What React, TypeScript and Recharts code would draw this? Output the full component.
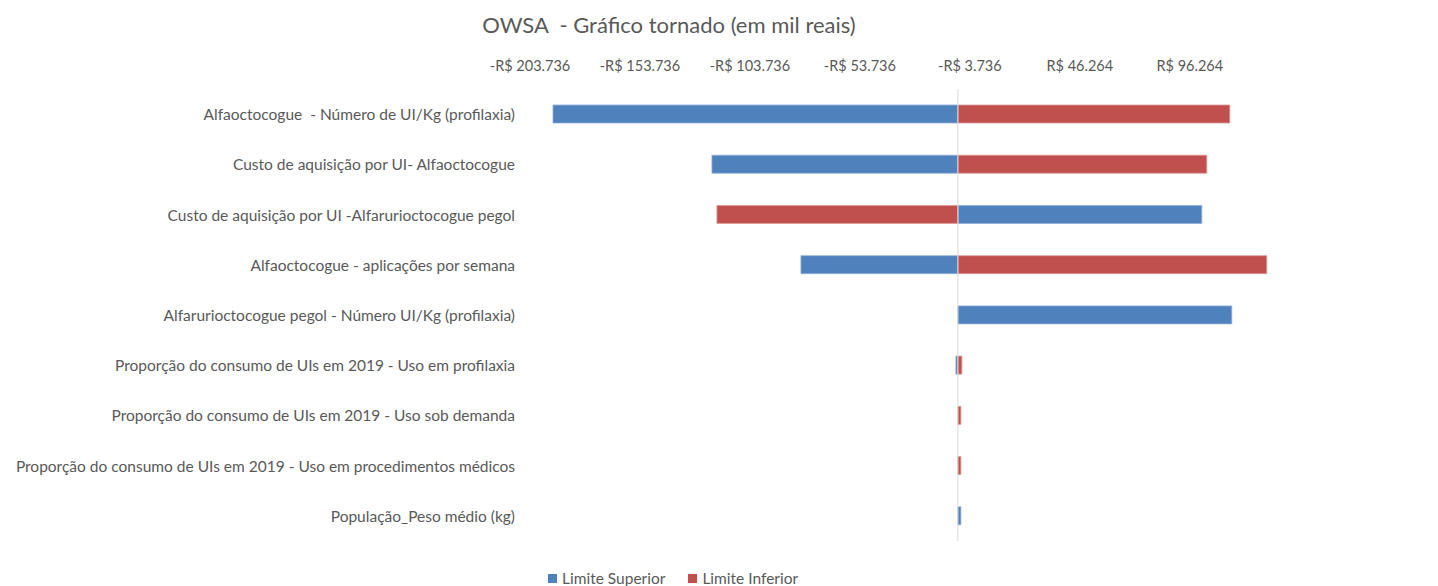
import { BarChart, Bar, XAxis, YAxis, ReferenceLine } from 'recharts'

// OWSA tornado – values in R$ (thousand units shown with "." separator)
const categories = [
  'Alfaoctocogue  - Número de UI/Kg (profilaxia)',
  'Custo de aquisição por UI- Alfaoctocogue',
  'Custo de aquisição por UI -Alfarurioctocogue pegol',
  'Alfaoctocogue - aplicações por semana',
  'Alfarurioctocogue pegol - Número UI/Kg (profilaxia)',
  'Proporção do consumo de UIs em 2019 - Uso em profilaxia',
  'Proporção do consumo de UIs em 2019 - Uso sob demanda',
  'Proporção do consumo de UIs em 2019 - Uso em procedimentos médicos',
  'População_Peso médio (kg)',
]

const baseValue = -9190

// bar end for each scenario
const limiteSuperior = [-193280, -121010, 101720, -80550, 115350, -10100, -9190, -9190, -7830]
const limiteInferior = [114440, 103990, -118740, 131260, -9190, -7370, -7830, -7830, -9190]

const xTicks = [-203736, -153736, -103736, -53736, -3736, 46264, 96264]

const BLUE = '#4F81BD'
const RED = '#C0504D'
const TEXT = '#595959'
const FONT = 'Lato, "Open Sans", sans-serif'

const span = (v: number): [number, number] => [Math.min(baseValue, v), Math.max(baseValue, v)]

const data = categories.map((name, i) => ({
  name,
  sup: span(limiteSuperior[i]),
  inf: span(limiteInferior[i]),
}))

const fmtMoney = (v: number) => {
  const s = (Math.abs(v) / 1000).toFixed(3)
  return v < 0 ? `-R$ ${s}` : `R$ ${s}`
}

// plain <text> so double spaces in the labels survive
const CategoryTick = (props: any) => {
  const { x, y, payload } = props
  return (
    <text
      x={x}
      y={y}
      textAnchor="end"
      dominantBaseline="central"
      fill={TEXT}
      fontSize={15.5}
      fontFamily={FONT}
      style={{ whiteSpace: 'pre' }}
    >
      {payload.value}
    </text>
  )
}

export default function App() {
  return (
    <div style={{ position: 'relative', width: 1430, height: 578, fontFamily: FONT }}>
      <div
        style={{
          position: 'absolute',
          top: 4,
          left: 461,
          width: 400,
          textAlign: 'center',
          fontSize: 22,
          lineHeight: '26px',
          color: TEXT,
          whiteSpace: 'pre',
        }}
      >
        {'OWSA  - Gráfico tornado (em mil reais)'}
      </div>

      <BarChart
        width={1430}
        height={578}
        data={data}
        layout="vertical"
        margin={{ top: 51, right: 152, bottom: 45, left: 0 }}
        barSize={18}
        barGap={-18}
      >
        <XAxis
          type="number"
          orientation="top"
          domain={[-203736, 140000]}
          ticks={xTicks}
          tickFormatter={fmtMoney}
          height={30}
          axisLine={false}
          tickLine={false}
          tickSize={6}
          tickMargin={12}
          tick={{ fill: TEXT, fontSize: 14.5, fontFamily: FONT }}
        />
        <YAxis
          type="category"
          dataKey="name"
          width={522}
          axisLine={false}
          tickLine={false}
          tickSize={6}
          tickMargin={9}
          interval={0}
          tick={<CategoryTick />}
        />
        <ReferenceLine x={baseValue} stroke="#D9D9D9" strokeWidth={1} />
        <Bar dataKey="sup" name="Limite Superior" fill={BLUE} stroke="#8FAEDB" strokeWidth={0.8} isAnimationActive={false} />
        <Bar dataKey="inf" name="Limite Inferior" fill={RED} stroke="#DD9A98" strokeWidth={0.8} isAnimationActive={false} />
      </BarChart>

      {/* legend */}
      <div
        style={{
          position: 'absolute',
          top: 561,
          left: 540,
          display: 'flex',
          alignItems: 'center',
          fontSize: 15.5,
          color: TEXT,
          whiteSpace: 'nowrap',
        }}
      >
        <span style={{ width: 9, height: 9, background: BLUE, marginRight: 5, display: 'inline-block' }} />
        <span style={{ marginRight: 23 }}>Limite Superior</span>
        <span style={{ width: 9, height: 9, background: RED, marginRight: 5, display: 'inline-block' }} />
        <span>Limite Inferior</span>
      </div>
    </div>
  )
}
